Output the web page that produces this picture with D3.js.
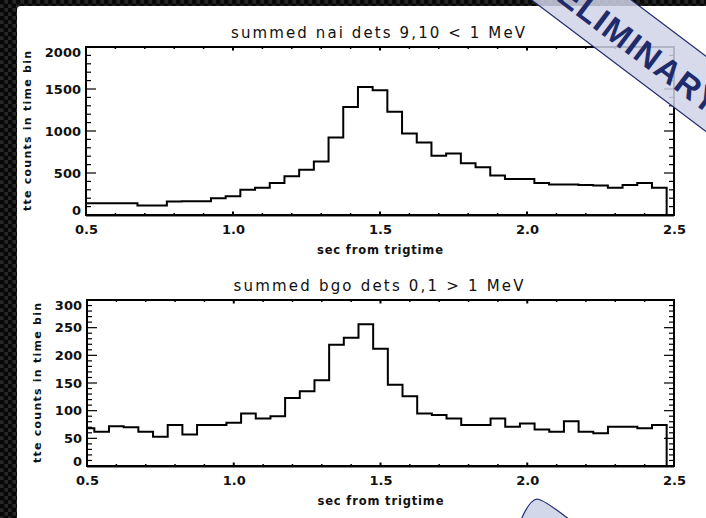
<!DOCTYPE html>
<html><head><meta charset="utf-8">
<script src="https://cdn.jsdelivr.net/npm/d3@7"></script>
<style>html,body{margin:0;padding:0;background:#111;}svg{display:block;}</style>
</head><body>
<svg id="c" width="706" height="518"></svg>
<script>
// ---- data ----
const times = [0.50,0.55,0.60,0.65,0.70,0.75,0.80,0.85,0.90,0.95,1.00,1.05,1.10,1.15,1.20,1.25,1.30,1.35,1.40,1.45,1.50,1.55,1.60,1.65,1.70,1.75,1.80,1.85,1.90,1.95,2.00,2.05,2.10,2.15,2.20,2.25,2.30,2.35,2.40,2.45,2.50];
const naiCounts = [140,140,140,140,113,113,160,165,165,200,223,300,323,382,460,540,638,923,1287,1524,1485,1228,970,864,706,733,615,567,469,429,429,382,362,362,358,350,323,358,382,323,0];
const bgoCounts = [68,62,72,70,62,53,74,57,74,74,78,95,86,90,123,135,155,219,232,256,212,147,126,95,92,86,74,74,86,71,77,66,62,81,62,59,71,71,68,74,0];
const xTickValues = [0.5,1.0,1.5,2.0,2.5];
const naiTickValues = [0,500,1000,1500,2000];
const bgoTickValues = [0,50,100,150,200,250,300];
const titles = ["summed nai dets 9,10 < 1 MeV","summed bgo dets 0,1 > 1 MeV"];
const xTitle = "sec from trigtime";
const yTitle = "tte counts in time bin";
const stampText = "PRELIMINARY";

const svg = d3.select("#c");
const defs = svg.append("defs");
const pat = defs.append("pattern").attr("id","dots").attr("width",8).attr("height",8).attr("patternUnits","userSpaceOnUse");
pat.append("rect").attr("width",8).attr("height",8).attr("fill","#262626");
pat.append("circle").attr("cx",2).attr("cy",2).attr("r",2.6).attr("fill","#080808");
pat.append("circle").attr("cx",6).attr("cy",6).attr("r",2.6).attr("fill","#080808");
svg.append("rect").attr("width",706).attr("height",518).attr("fill","url(#dots)");
svg.append("rect").attr("x",17).attr("y",6).attr("width",700).attr("height",530).attr("rx",4).attr("fill","#fff");

const FONT = "DejaVu Sans, Liberation Sans, sans-serif";

function panel(cfg){
  const x = d3.scaleLinear().domain([0.5,2.5]).range([cfg.left,cfg.right]);
  const y = d3.scaleLinear().domain([0,cfg.ymax]).range([cfg.bottom,cfg.top]);
  const g = svg.append("g");
  const yMinor = d3.range(0,cfg.ymax+0.0001,cfg.ymin);
  const xMinor = d3.range(5,26).map(v=>v/10);
  const tk = g.append("g").attr("stroke","#000").attr("stroke-width",1.2);
  yMinor.forEach(v=>{
    const major = cfg.yticks.includes(v);
    const L = major?10:5;
    tk.append("line").attr("x1",cfg.left).attr("x2",cfg.left+L).attr("y1",y(v)).attr("y2",y(v));
    tk.append("line").attr("x1",cfg.right).attr("x2",cfg.right-L).attr("y1",y(v)).attr("y2",y(v));
  });
  xMinor.forEach(v=>{
    const major = xTickValues.some(t=>Math.abs(t-v)<1e-6);
    const L = major?3.5:2;
    tk.append("line").attr("x1",x(v)).attr("x2",x(v)).attr("y1",cfg.bottom).attr("y2",cfg.bottom-L).attr("stroke-width",major?2:1.5);
    tk.append("line").attr("x1",x(v)).attr("x2",x(v)).attr("y1",cfg.top).attr("y2",cfg.top+L).attr("stroke-width",major?2:1.5);
  });
  const line = d3.line().x((d,i)=>x(times[i])).y(d=>y(d)).curve(d3.curveStep);
  g.append("path").attr("d",line(cfg.data)).attr("fill","none").attr("stroke","#000").attr("stroke-width",2);
  g.append("rect").attr("x",cfg.left).attr("y",cfg.top).attr("width",cfg.right-cfg.left).attr("height",cfg.bottom-cfg.top)
    .attr("fill","none").attr("stroke","#000").attr("stroke-width",2);
  g.append("line").attr("x1",cfg.left).attr("x2",cfg.right).attr("y1",cfg.bottom+1.5).attr("y2",cfg.bottom+1.5).attr("stroke","#888").attr("stroke-width",1.2);
  const xa = d3.axisBottom(x).tickValues(xTickValues).tickFormat(d3.format(".1f")).tickSize(0).tickPadding(0);
  const xg = g.append("g").attr("transform",`translate(0,${cfg.bottom+19})`).call(xa);
  xg.select(".domain").remove();
  xg.selectAll("text").attr("font-family",FONT).attr("font-weight","bold").attr("font-size",13).attr("fill","#111").attr("dy","0");
  const ya = d3.axisLeft(y).tickValues(cfg.yticks).tickFormat(d3.format("d")).tickSize(0).tickPadding(0);
  const yg = g.append("g").attr("transform",`translate(${cfg.left-5},0)`).call(ya);
  yg.select(".domain").remove();
  yg.selectAll("text").attr("font-family",FONT).attr("font-weight","bold").attr("font-size",13).attr("fill","#111")
    .attr("dy",(d,i)=> i===0? "-0.05em" : (i===cfg.yticks.length-1? "0.72em":"0.32em"));
  g.append("text").attr("x",(cfg.left+cfg.right)/2-2).attr("y",cfg.top-9).attr("text-anchor","middle")
    .attr("font-family",FONT).attr("font-size",15).attr("fill","#111").attr("textLength",cfg.titleLen).attr("lengthAdjust","spacing")
    .text(cfg.title);
  g.append("text").attr("x",(cfg.left+cfg.right)/2).attr("y",cfg.bottom+39).attr("text-anchor","middle")
    .attr("font-family",FONT).attr("font-size",11.5).attr("font-weight","bold").attr("fill","#111").attr("textLength",126).attr("lengthAdjust","spacing")
    .text(xTitle);
  g.append("text").attr("transform",`translate(${cfg.ytx},${(cfg.top+cfg.bottom)/2}) rotate(-90)`).attr("text-anchor","middle")
    .attr("font-family",FONT).attr("font-size",11).attr("font-weight","bold").attr("fill","#111").attr("textLength",160).attr("lengthAdjust","spacing")
    .text(yTitle);
}

panel({left:86,right:674,top:47,bottom:215,ymax:2000,ymin:100,yticks:naiTickValues,data:naiCounts,title:titles[0],titleLen:294,ytx:31});
panel({left:87,right:674,top:300,bottom:466,ymax:300,ymin:10,yticks:bgoTickValues,data:bgoCounts,title:titles[1],titleLen:290,ytx:41});

// PRELIMINARY stamp
const st = svg.append("g").attr("transform","translate(614,32) rotate(37)");
st.append("rect").attr("x",-220).attr("y",-36).attr("width",440).attr("height",60)
  .attr("fill","#cfd3e6").attr("fill-opacity",0.85).attr("stroke","#1f2b6b").attr("stroke-width",1.2);
st.append("text").attr("x",6).attr("y",-2).attr("text-anchor","middle").attr("dominant-baseline","central")
  .attr("font-family","Liberation Sans, Arial, sans-serif").attr("font-weight","bold").attr("font-size",33)
  .attr("fill","#1f2b6b").attr("letter-spacing",1.5).text(stampText);

// callout bubble (decoration)
svg.append("path").attr("d","M521,520 C526,508 531,500 537,499 C542,499 552,506 570,520 Z")
  .attr("fill","#d3d7ea").attr("stroke","#1f2b6b").attr("stroke-width",1.2);
</script>
</body></html>
